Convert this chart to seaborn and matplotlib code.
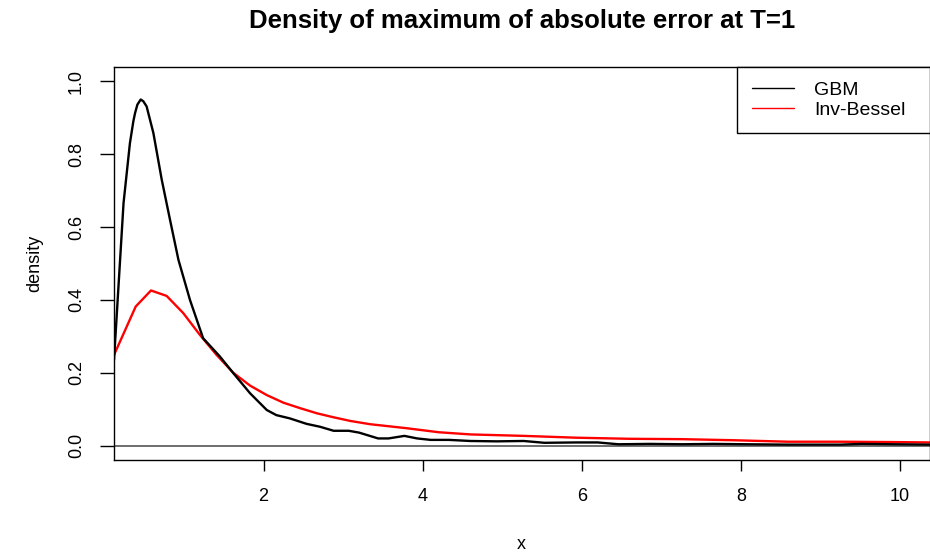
import matplotlib
matplotlib.use("Agg")
import matplotlib.pyplot as plt
import seaborn as sns
import pandas as pd

# ---- data ----
gbm_x = [0.12, 0.24, 0.32, 0.363, 0.385, 0.414, 0.456, 0.489, 0.53, 0.615, 0.72,
         0.824, 0.93, 1.075, 1.24, 1.45, 1.62, 1.83, 2.04, 2.16, 2.33, 2.54, 2.71,
         2.88, 3.07, 3.20, 3.44, 3.57, 3.77, 3.93, 4.10, 4.33, 4.60, 4.93, 5.27,
         5.53, 5.93, 6.20, 6.46, 6.86, 7.26, 7.66, 8.06, 8.59, 9.25, 9.52, 9.92,
         10.37]
gbm_y = [0.235, 0.666, 0.83, 0.89, 0.913, 0.936, 0.95, 0.945, 0.931, 0.858, 0.73,
         0.62, 0.51, 0.40, 0.295, 0.245, 0.199, 0.144, 0.098, 0.084, 0.075, 0.06,
         0.052, 0.041, 0.041, 0.036, 0.020, 0.020, 0.027, 0.020, 0.016, 0.016,
         0.013, 0.012, 0.013, 0.008, 0.009, 0.009, 0.004, 0.005, 0.004, 0.005,
         0.004, 0.003, 0.003, 0.005, 0.004, 0.003]

bessel_x = [0.12, 0.393, 0.585, 0.782, 0.99, 1.20, 1.41, 1.62, 1.83, 2.04, 2.25,
            2.46, 2.67, 2.88, 3.09, 3.34, 3.80, 4.2, 4.6, 5.27, 5.93, 6.60, 7.26,
            7.92, 8.59, 9.25, 9.92, 10.37]
bessel_y = [0.249, 0.382, 0.426, 0.411, 0.364, 0.304, 0.249, 0.20, 0.165, 0.139,
            0.118, 0.103, 0.089, 0.078, 0.068, 0.059, 0.048, 0.037, 0.031, 0.027,
            0.022, 0.019, 0.018, 0.015, 0.011, 0.011, 0.010, 0.009]

x_ticks = [2, 4, 6, 8, 10]
y_ticks = [0.0, 0.2, 0.4, 0.6, 0.8, 1.0]
y_tick_labels = ["0.0", "0.2", "0.4", "0.6", "0.8", "1.0"]

title = "Density of maximum of absolute error at T=1"
series_names = ["GBM", "Inv-Bessel"]
series_colors = ["black", "red"]

# ---- style ----
sns.set_theme(style="white")
plt.rcParams["font.family"] = ["Liberation Sans", "DejaVu Sans"]
plt.rcParams["text.color"] = "black"
plt.rcParams["axes.labelcolor"] = "black"
plt.rcParams["xtick.color"] = "black"
plt.rcParams["ytick.color"] = "black"

W, H = 930, 557
fig = plt.figure(figsize=(W / 100, H / 100), dpi=100)
left, right, top, bottom = 114, 929.5, 66.7, 460.3
ax = fig.add_axes([left / W, 1 - bottom / H, (right - left) / W, (bottom - top) / H])

df_gbm = pd.DataFrame({"x": gbm_x, "y": gbm_y})
df_bes = pd.DataFrame({"x": bessel_x, "y": bessel_y})

ax.axhline(0, color="#555555", lw=1.2, zorder=1)
sns.lineplot(data=df_gbm, x="x", y="y", ax=ax, color=series_colors[0], lw=1.7,
             estimator=None, label=series_names[0], zorder=3)
sns.lineplot(data=df_bes, x="x", y="y", ax=ax, color=series_colors[1], lw=1.7,
             estimator=None, label=series_names[1], zorder=2)

ax.set_xlim(0.12, 10.37)
ax.set_ylim(-0.04, 1.04)
ax.set_xticks(x_ticks)
ax.set_xticklabels([str(t) for t in x_ticks])
ax.set_yticks(y_ticks)
ax.set_yticklabels(y_tick_labels, rotation=90, va="center")

for s in ax.spines.values():
    s.set_visible(True)
    s.set_color("black")
    s.set_linewidth(1.0)

ax.tick_params(axis="x", direction="out", length=8, width=1.0, color="black",
               labelsize=13, pad=12, bottom=True, labelcolor="black")
ax.tick_params(axis="y", direction="out", length=10, width=1.0, color="black",
               labelsize=13, pad=11, left=True, labelcolor="black")

ax.set_xlabel("x", fontsize=13, labelpad=22, color="black")
ax.set_ylabel("density", fontsize=13, labelpad=18, color="black")
fig.text((left + right) / 2 / W, 1 - 21 / H, title, ha="center", va="center",
         fontsize=18.5, fontweight="bold", color="black")

ax_w = right - left
ax_h = bottom - top
leg_x0 = (737 - left) / ax_w
leg_w = (930 - 737) / ax_w
leg_h = (136 - 67) / ax_h
leg = ax.legend(loc="upper right", bbox_to_anchor=(leg_x0, 1.0 - leg_h, leg_w, leg_h),
                mode="expand", borderaxespad=0,
                fancybox=False, framealpha=1, edgecolor="black", fontsize=14,
                handlelength=2.2, handletextpad=1.0, labelspacing=0.12,
                borderpad=0.75)
leg.get_frame().set_linewidth(1.0)
for line in leg.get_lines():
    line.set_linewidth(1.0)
for t in leg.get_texts():
    t.set_color("black")

fig.savefig("out.png", dpi=100)
